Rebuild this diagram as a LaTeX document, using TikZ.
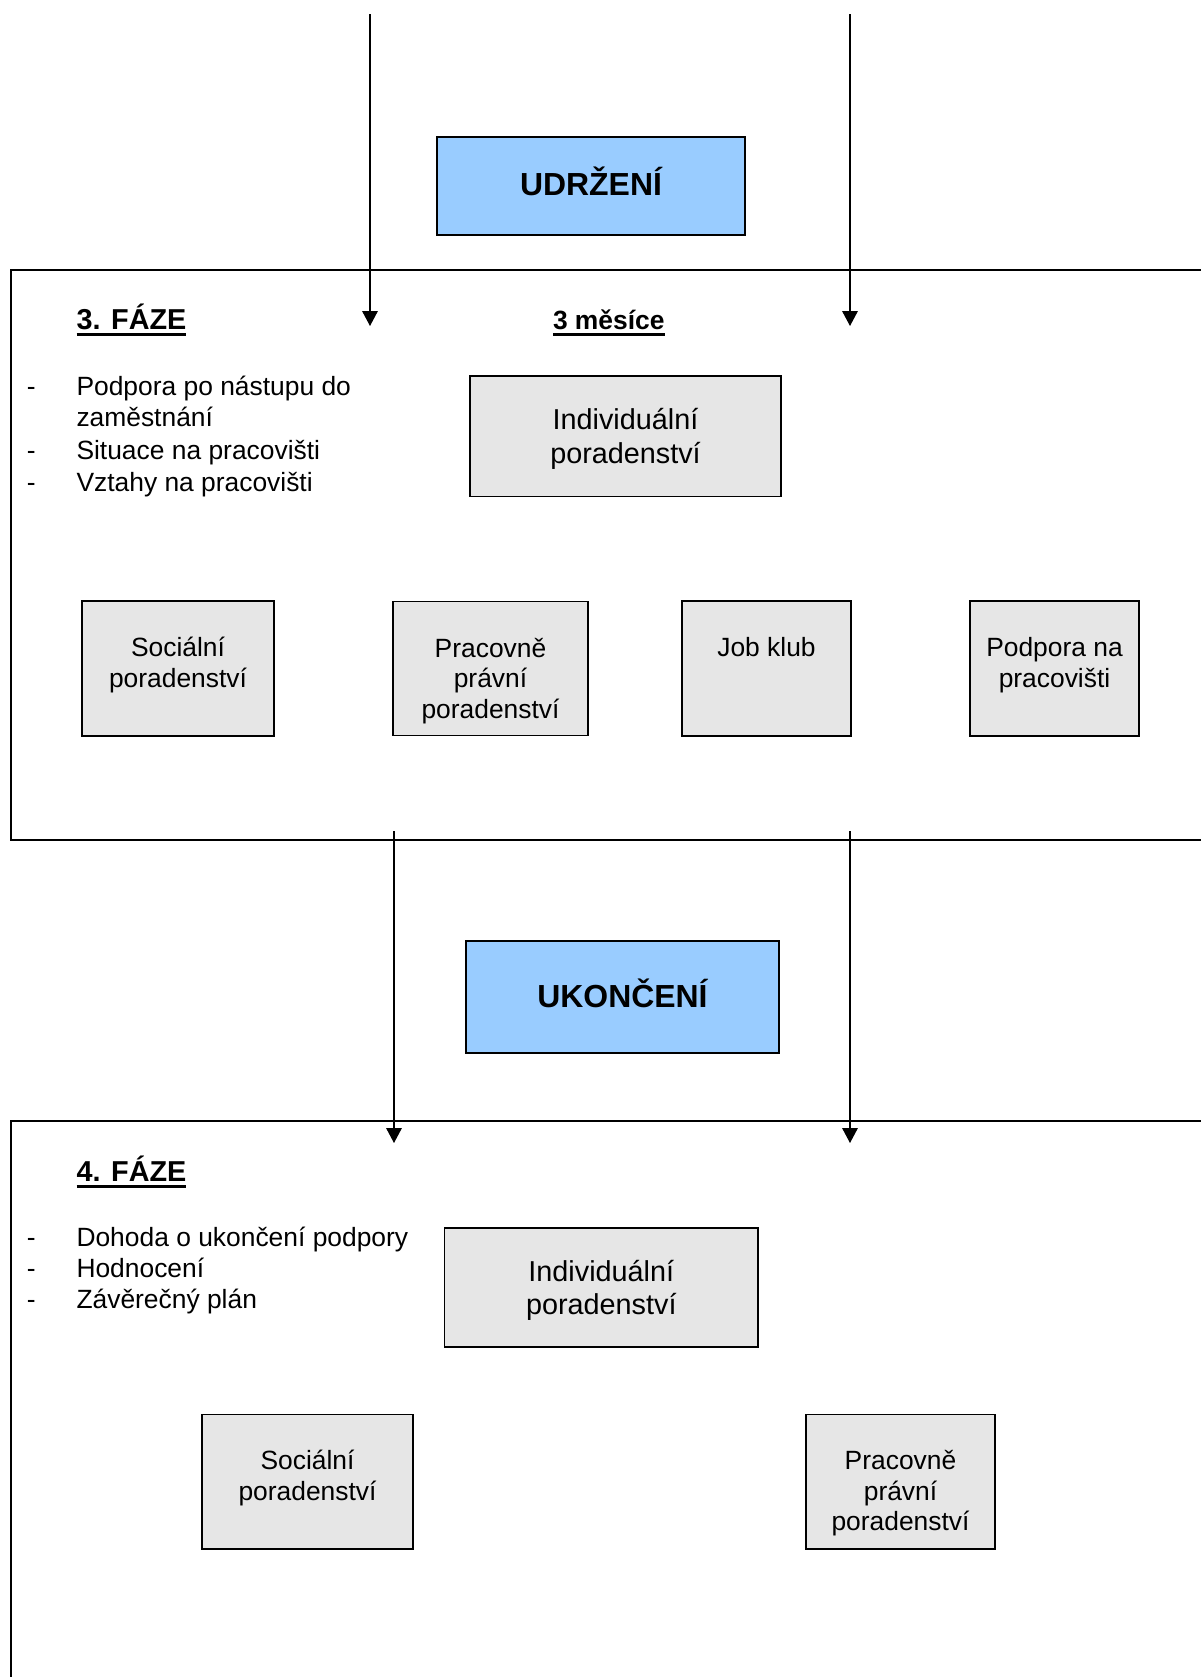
\documentclass[tikz,border=0pt]{standalone}
\usepackage{fontspec}
\setmainfont{Liberation Sans}
\usetikzlibrary{arrows.meta,calc}
\definecolor{udblue}{HTML}{99CCFF}
\definecolor{boxgray}{HTML}{E6E6E6}
\newlength\pxu
\setlength\pxu{0.416667pt}
\begin{document}
\begin{tikzpicture}[x=0.416667pt,y=-0.416667pt,
  frameline/.style={line width=0.85pt},
  gbox/.style 2 args={draw, line width=0.7pt, fill=boxgray, inner sep=0pt, outer sep=0pt,
    minimum width=#1\pxu, minimum height=#2\pxu},
  bbox/.style 2 args={draw, line width=0.7pt, fill=udblue, inner sep=0pt, outer sep=0pt,
    minimum width=#1\pxu, minimum height=#2\pxu},
  bluetxt/.style={inner sep=0pt, outer sep=0pt, font=\fontsize{13.3}{16}\selectfont\bfseries},
  bigtxt/.style={inner sep=0pt, outer sep=0pt, font=\fontsize{12}{14}\selectfont},
  txt/.style={inner sep=0pt, outer sep=0pt, font=\fontsize{11}{13}\selectfont},
  head/.style={inner sep=0pt, outer sep=0pt, font=\fontsize{12}{14}\selectfont\bfseries},
  subhead/.style={inner sep=0pt, outer sep=0pt, font=\fontsize{11}{13}\selectfont\bfseries},
  flowarrow/.style={line width=0.55pt, -{Triangle[length=6.25pt,width=6.5pt]}},
  uline/.style={line width=1.5pt}
]
\useasboundingbox (0,0) rectangle (1200,1677);

% phase frames
\draw[frameline] (1215,270) -- (11,270) -- (11,840) -- (1215,840);
\draw[frameline] (1215,1121) -- (11,1121) -- (11,1700);

% blue phase boxes
\node[bbox={308}{98}] (udrz) at (591,186) {};
\node[bluetxt, anchor=base] (udrzt) at (591,195.7) {UDRŽENÍ};
\node[bbox={313}{112}] (ukon) at (622.5,997) {};
\node[bluetxt, anchor=base] (ukont) at (622.5,1007.5) {UKONČENÍ};

% arrows
\coordinate (a1s) at (370,14);   \coordinate (a1e) at (370,326);
\coordinate (a2s) at (850,14);   \coordinate (a2e) at (850,326);
\coordinate (a3s) at (394,831);  \coordinate (a3e) at (394,1143);
\coordinate (a4s) at (850,831);  \coordinate (a4e) at (850,1143);
\draw[flowarrow] (a1s) -- (a1e);
\draw[flowarrow] (a2s) -- (a2e);
\draw[flowarrow] (a3s) -- (a3e);
\draw[flowarrow] (a4s) -- (a4e);

% ---------- phase 3 ----------
\node[head, anchor=base west] (h3) at (76.5,329.3) {3. FÁZE};
\draw[uline] ($(h3.base west)+(0,5)$) -- ($(h3.base east)+(0,5)$);
\node[subhead, anchor=base west] (mes) at (553,329.3) {3 měsíce};
\draw[uline] ($(mes.base west)+(0,5)$) -- ($(mes.base east)+(0,5)$);

\node[txt, anchor=base west] (d31) at (27,395) {-};
\node[txt, anchor=base west] (b31) at (76.5,395) {Podpora po nástupu do};
\node[txt, anchor=base west] (b31b) at (76.5,426) {zaměstnání};
\node[txt, anchor=base west] (d32) at (27,459.3) {-};
\node[txt, anchor=base west] (b32) at (76.5,459.3) {Situace na pracovišti};
\node[txt, anchor=base west] (d33) at (27,491) {-};
\node[txt, anchor=base west] (b33) at (76.5,491) {Vztahy na pracovišti};

\node[gbox={311}{120.5}] (ind3) at (625.5,436.3) {};
\node[bigtxt, anchor=base] (ind3a) at (625.5,429.8) {Individuální};
\node[bigtxt, anchor=base] (ind3b) at (625.5,463.2) {poradenství};

\node[gbox={192}{135}] (soc3) at (178,668.5) {};
\node[gbox={195}{134}] (prav3) at (490.5,668.5) {};
\node[gbox={169}{135}] (job3) at (766.5,668.5) {};
\node[gbox={169}{135}] (podp3) at (1054.5,668.5) {};

\node[txt, anchor=base] (soc3a) at ($(soc3.north)+(0,55.5)$) {Sociální};
\node[txt, anchor=base] (soc3b) at ($(soc3.north)+(0,86)$) {poradenství};
\node[txt, anchor=base] (prav3a) at ($(prav3.north)+(0,55.5)$) {Pracovně};
\node[txt, anchor=base] (prav3b) at ($(prav3.north)+(0,86)$) {právní};
\node[txt, anchor=base] (prav3c) at ($(prav3.north)+(0,116.5)$) {poradenství};
\node[txt, anchor=base] (job3a) at ($(job3.north)+(0,55.5)$) {Job klub};
\node[txt, anchor=base] (podp3a) at ($(podp3.north)+(0,55.5)$) {Podpora na};
\node[txt, anchor=base] (podp3b) at ($(podp3.north)+(0,86)$) {pracovišti};

% ---------- phase 4 ----------
\node[head, anchor=base west] (h4) at (76.5,1181.3) {4. FÁZE};
\draw[uline] ($(h4.base west)+(0,5)$) -- ($(h4.base east)+(0,5)$);

\node[txt, anchor=base west] (d41) at (27,1246.7) {-};
\node[txt, anchor=base west] (b41) at (76.5,1246.7) {Dohoda o ukončení podpory};
\node[txt, anchor=base west] (d42) at (27,1277.7) {-};
\node[txt, anchor=base west] (b42) at (76.5,1277.7) {Hodnocení};
\node[txt, anchor=base west] (d43) at (27,1308.5) {-};
\node[txt, anchor=base west] (b43) at (76.5,1308.5) {Závěrečný plán};

\node[gbox={313.4}{119.6}] (ind4) at (601.3,1287.5) {};
\node[bigtxt, anchor=base] (ind4a) at (601.3,1281) {Individuální};
\node[bigtxt, anchor=base] (ind4b) at (601.3,1314.5) {poradenství};

\node[gbox={211}{134.4}] (soc4) at (307.5,1481.8) {};
\node[gbox={189}{134.4}] (prav4) at (900.5,1481.8) {};

\node[txt, anchor=base] (soc4a) at ($(soc4.north)+(0,55)$) {Sociální};
\node[txt, anchor=base] (soc4b) at ($(soc4.north)+(0,85.5)$) {poradenství};
\node[txt, anchor=base] (prav4a) at ($(prav4.north)+(0,55)$) {Pracovně};
\node[txt, anchor=base] (prav4b) at ($(prav4.north)+(0,85.5)$) {právní};
\node[txt, anchor=base] (prav4c) at ($(prav4.north)+(0,116)$) {poradenství};
\end{tikzpicture}
\end{document}
